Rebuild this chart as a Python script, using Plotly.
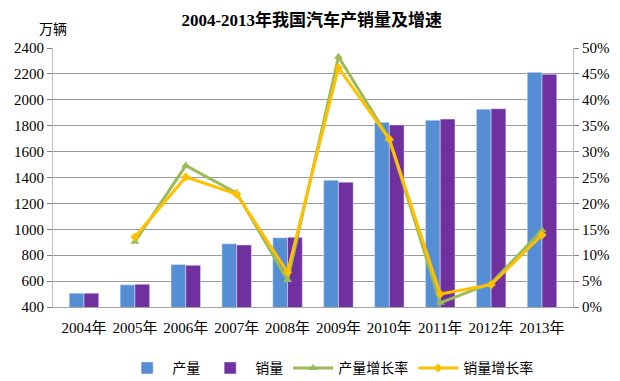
import plotly.graph_objects as go

years = ["2004年", "2005年", "2006年", "2007年", "2008年", "2009年", "2010年", "2011年", "2012年", "2013年"]
production = [507, 571, 728, 888, 935, 1379, 1826, 1842, 1927, 2212]
sales = [507, 576, 722, 879, 938, 1364, 1806, 1851, 1931, 2198]
prod_growth = [None, 12.6, 27.3, 22.0, 5.2, 48.3, 32.4, 0.8, 4.6, 14.8]
sales_growth = [None, 13.5, 25.1, 21.8, 6.7, 46.2, 32.4, 2.5, 4.3, 13.9]

left_ticks = list(range(400, 2401, 200))
right_ticks = list(range(0, 51, 5))
right_labels = [f"{v}%" for v in right_ticks]

serif = "Liberation Serif, Times New Roman, Noto Sans CJK SC, serif"

fig = go.Figure()
fig.add_trace(go.Bar(x=years, y=production, name="产量", marker=dict(color="#558ED5"), yaxis="y"))
fig.add_trace(go.Bar(x=years, y=sales, name="销量", marker=dict(color="#7030A0"), yaxis="y"))
fig.add_trace(go.Scatter(x=years, y=prod_growth, name="产量增长率", yaxis="y2", mode="lines+markers",
                         line=dict(color="#9BBB59", width=3),
                         marker=dict(symbol="triangle-up", size=8, color="#9BBB59")))
fig.add_trace(go.Scatter(x=years, y=sales_growth, name="销量增长率", yaxis="y2", mode="lines+markers",
                         line=dict(color="#FFC000", width=3),
                         marker=dict(symbol="diamond", size=7, color="#FFC000")))

fig.update_layout(
    width=620, height=381,
    margin=dict(l=45, r=55, t=40, b=82, autoexpand=False),
    paper_bgcolor="white", plot_bgcolor="white",
    barmode="group", bargap=0.42, bargroupgap=0,
    font=dict(family=serif, size=15, color="black"),
    title=dict(text="<b>2004-2013年我国汽车产销量及增速</b>", x=0.49, xanchor="center",
               y=0.969, yanchor="middle", font=dict(size=17, family=serif)),
    xaxis=dict(showline=True, linecolor="#A6A6A6", linewidth=1, ticks="", showgrid=False,
               tickfont=dict(size=15), ticklabelstandoff=7),
    yaxis=dict(range=[400, 2400], tickvals=left_ticks, showline=True, linecolor="#BFBFBF",
               ticks="outside", ticklen=5, tickcolor="#808080", showgrid=True, gridcolor="#9A9A9A",
               gridwidth=1, zeroline=False, tickfont=dict(size=15)),
    yaxis2=dict(range=[0, 50], tickvals=right_ticks, ticktext=right_labels, overlaying="y", side="right",
                showline=True, linecolor="#BFBFBF", ticks="outside", ticklen=5, tickcolor="#808080",
                showgrid=False, zeroline=False, tickfont=dict(size=15)),
    legend=dict(orientation="h", x=0.533, xanchor="center", y=-0.175, yanchor="top",
                font=dict(size=14), itemwidth=40, traceorder="normal"),
    annotations=[dict(text="万辆", xref="paper", yref="paper", x=0.0, y=1.07, xanchor="center",
                      yanchor="middle", showarrow=False, font=dict(size=14))],
)

fig.write_html("out.html")
